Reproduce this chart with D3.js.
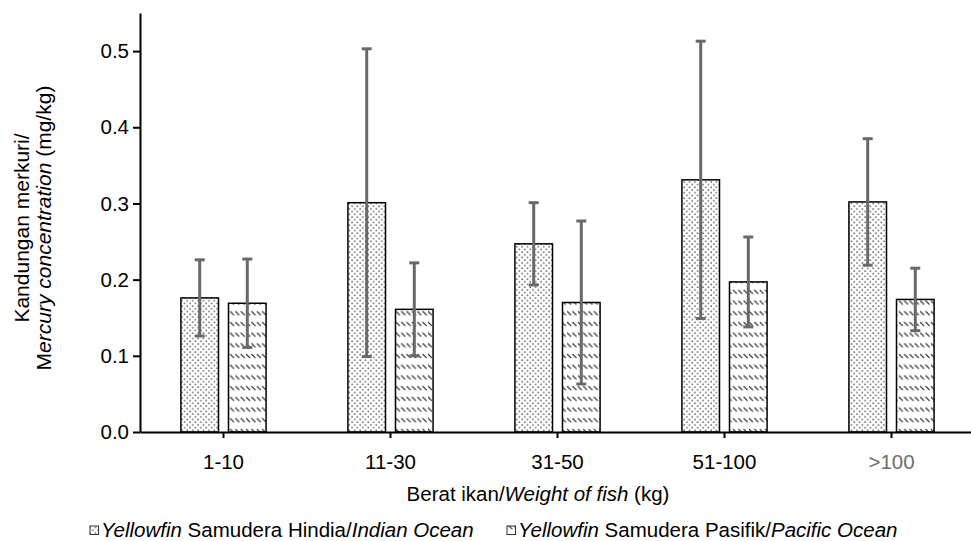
<!DOCTYPE html>
<html>
<head>
<meta charset="utf-8">
<script src="https://cdn.jsdelivr.net/npm/d3@7"></script>
<style>
  html, body { margin: 0; padding: 0; background: #fff; }
  svg { display: block; font-family: "Liberation Sans", Arial, sans-serif; }
</style>
</head>
<body>
<svg id="chart" width="971" height="541"></svg>
<script>
// Weight classes and series
const categories = ["1-10", "11-30", "31-50", "51-100", ">100"];
const seriesKeys = ["indian", "pacific"];
// Mean mercury concentration (mg/kg)
const indianMean = [0.176, 0.301, 0.247, 0.331, 0.302];
const pacificMean = [0.169, 0.161, 0.170, 0.197, 0.174];
// Standard deviation (error bar half-length)
const indianSd = [0.050, 0.202, 0.054, 0.182, 0.083];
const pacificSd = [0.058, 0.061, 0.107, 0.059, 0.041];
const yTicks = [0, 0.1, 0.2, 0.3, 0.4, 0.5];

const rows = [];
categories.forEach((c, i) => {
  rows.push({ cat: c, key: "indian", mean: indianMean[i], sd: indianSd[i] });
  rows.push({ cat: c, key: "pacific", mean: pacificMean[i], sd: pacificSd[i] });
});

const FONT = 20.5;
const svg = d3.select("#chart");
const plotLeft = 140, plotBottom = 432, plotTop = 13, plotRight = 975;

const x = d3.scaleBand().domain(categories).range([plotLeft, plotRight]).padding(0);
const xs = d3.scaleBand().domain(seriesKeys)
  .range([x.bandwidth() * 0.245, x.bandwidth() * 0.755]).paddingInner(0.21);
const y = d3.scaleLinear().domain([0, 0.55]).range([plotBottom, plotTop]);

// Fill patterns
const defs = svg.append("defs");
const dots = defs.append("pattern").attr("id", "pat-dots")
  .attr("patternUnits", "userSpaceOnUse").attr("width", 5.4).attr("height", 5.4);
dots.append("rect").attr("width", 5.4).attr("height", 5.4).attr("fill", "#fff");
dots.append("rect").attr("x", 0.4).attr("y", 0.4).attr("width", 1.3).attr("height", 1.3).attr("fill", "#333");
dots.append("rect").attr("x", 3.1).attr("y", 3.1).attr("width", 1.3).attr("height", 1.3).attr("fill", "#333");

const dash = defs.append("pattern").attr("id", "pat-dash")
  .attr("patternUnits", "userSpaceOnUse").attr("width", 10.7).attr("height", 10.7);
dash.append("rect").attr("width", 10.7).attr("height", 10.7).attr("fill", "#fff");
dash.append("path").attr("d", "M0,1 L4,5 M5.35,1 L9.35,5")
  .attr("stroke", "#333").attr("stroke-width", 1.2).attr("fill", "none");

const fillFor = { indian: "url(#pat-dots)", pacific: "url(#pat-dash)" };

// Bars
svg.append("g").selectAll("rect").data(rows).join("rect")
  .attr("x", d => x(d.cat) + xs(d.key))
  .attr("y", d => y(d.mean))
  .attr("width", xs.bandwidth())
  .attr("height", d => y(0) - y(d.mean))
  .attr("fill", d => fillFor[d.key])
  .attr("stroke", "#000")
  .attr("stroke-width", 1.5);

// Error bars
const eb = svg.append("g").attr("stroke", "#696969").attr("stroke-width", 3).attr("fill", "none");
rows.forEach(d => {
  const cx = x(d.cat) + xs(d.key) + xs.bandwidth() / 2;
  const y1 = y(d.mean + d.sd), y0 = y(d.mean - d.sd);
  eb.append("line").attr("x1", cx).attr("x2", cx).attr("y1", y1).attr("y2", y0);
  eb.append("line").attr("x1", cx - 5).attr("x2", cx + 5).attr("y1", y1).attr("y2", y1);
  eb.append("line").attr("x1", cx - 5).attr("x2", cx + 5).attr("y1", y0).attr("y2", y0);
});

// Y axis
const yAxis = svg.append("g").attr("transform", `translate(${plotLeft},0)`)
  .call(d3.axisLeft(y).tickValues(yTicks).tickFormat(d3.format(".1f")).tickSize(7).tickSizeOuter(0));
yAxis.select(".domain").attr("stroke", "#000").attr("stroke-width", 2);
yAxis.selectAll(".tick line").attr("stroke", "#000").attr("stroke-width", 2);
yAxis.selectAll(".tick text").attr("font-size", FONT).attr("fill", "#000")
  .attr("font-family", "Liberation Sans, Arial, sans-serif").attr("x", -11);

// X axis
const xAxis = svg.append("g").attr("transform", `translate(0,${plotBottom})`)
  .call(d3.axisBottom(x).tickSize(6).tickSizeOuter(0));
xAxis.select(".domain").attr("stroke", "#000").attr("stroke-width", 2);
xAxis.selectAll(".tick line").attr("stroke", "#000").attr("stroke-width", 2);
xAxis.selectAll(".tick text").attr("font-size", FONT)
  .attr("font-family", "Liberation Sans, Arial, sans-serif")
  .attr("y", 22)
  .attr("fill", d => d === ">100" ? "#6e6e6e" : "#000");

// Y axis title
const yt = svg.append("text").attr("transform", "translate(29,228) rotate(-90)")
  .attr("text-anchor", "middle").attr("font-size", 21).attr("fill", "#000");
yt.append("tspan").attr("x", 0).attr("dy", 0).text("Kandungan merkuri/");
yt.append("tspan").attr("x", 0).attr("dy", 22).text("M");
yt.append("tspan").attr("font-style", "italic").text("ercury concentration");
yt.append("tspan").text(" (mg/kg)");

// X axis title
const xt = svg.append("text").attr("x", 538).attr("y", 501)
  .attr("text-anchor", "middle").attr("font-size", FONT).attr("fill", "#000");
xt.append("tspan").text("Berat ikan/");
xt.append("tspan").attr("font-style", "italic").text("Weight of fish");
xt.append("tspan").text(" (kg)");

// Legend
const legendItems = [
  { key: "indian", x: 90, parts: [["Yellowfin", true], [" Samudera Hindia/", false], ["Indian Ocean", true]] },
  { key: "pacific", x: 507, parts: [["Yellowfin", true], [" Samudera Pasifik/", false], ["Pacific Ocean", true]] }
];
const lg = svg.append("g");
legendItems.forEach(it => {
  lg.append("rect").attr("x", it.x).attr("y", 526).attr("width", 8.5).attr("height", 8.5)
    .attr("fill", fillFor[it.key]).attr("stroke", "#333").attr("stroke-width", 1);
  const t = lg.append("text").attr("x", it.x + 11).attr("y", 537).attr("font-size", FONT).attr("fill", "#000");
  it.parts.forEach(p => t.append("tspan").attr("font-style", p[1] ? "italic" : "normal").text(p[0]));
});
</script>
</body>
</html>
